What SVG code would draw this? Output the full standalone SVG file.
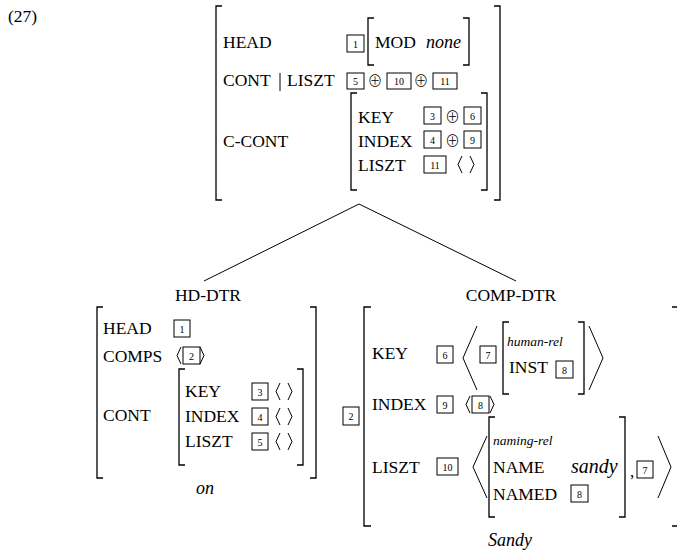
<svg xmlns="http://www.w3.org/2000/svg" width="677" height="551" viewBox="0 0 677 551">
<style>
text{font-family:"Liberation Serif","Times New Roman",serif;fill:#000}
.t{font-size:17.5px}
.i{font-size:18px;font-style:italic}
.s{font-size:13.5px;font-style:italic}
.n{font-size:10px;text-anchor:middle}
.o{font-family:"Noto Sans CJK JP","DejaVu Sans",sans-serif;font-size:15px;font-weight:300;text-anchor:middle}
.br{fill:none;stroke:#000;stroke-width:1.3}
.bx{fill:none;stroke:#000;stroke-width:1}
.ln{fill:none;stroke:#000;stroke-width:1}
</style>
<text class="t" x="8" y="22">(27)</text>

<g id="mother">
<path class="br" d="M222,6 H216 V200 H222"/>
<path class="br" d="M494,6 H500 V200 H494"/>
<text class="t" x="223" y="48">HEAD</text>
<rect class="bx" x="347" y="35" width="17" height="17"/><text class="n" x="355.5" y="47.5">1</text>
<path class="br" d="M374,18 H368 V65 H374"/>
<path class="br" d="M463,18 H469 V65 H463"/>
<text class="t" x="375" y="48">MOD</text>
<text class="i" x="426" y="48">none</text>
<text class="t" x="223" y="86">CONT</text>
<line class="ln" x1="280" y1="73" x2="280" y2="91"/>
<text class="t" x="287" y="86">LISZT</text>
<rect class="bx" x="347" y="73" width="17" height="16"/><text class="n" x="355.5" y="85">5</text>
<text class="o" x="375" y="86">⊕</text>
<rect class="bx" x="387" y="73" width="24" height="16"/><text class="n" x="399" y="85">10</text>
<text class="o" x="421" y="86">⊕</text>
<rect class="bx" x="433" y="73" width="24" height="16"/><text class="n" x="445" y="85">11</text>
<text class="t" x="223" y="147">C-CONT</text>
<path class="br" d="M357,93 H351 V190 H357"/>
<path class="br" d="M481,93 H487 V190 H481"/>
<text class="t" x="358" y="123">KEY</text>
<rect class="bx" x="424" y="107" width="17" height="17"/><text class="n" x="432.5" y="119.5">3</text>
<text class="o" x="452.5" y="122">⊕</text>
<rect class="bx" x="464" y="107" width="17" height="17"/><text class="n" x="472.5" y="119.5">6</text>
<text class="t" x="358" y="147">INDEX</text>
<rect class="bx" x="424" y="131" width="17" height="17"/><text class="n" x="432.5" y="143.5">4</text>
<text class="o" x="452.5" y="146">⊕</text>
<rect class="bx" x="464" y="131" width="17" height="17"/><text class="n" x="472.5" y="143.5">9</text>
<text class="t" x="358" y="171">LISZT</text>
<rect class="bx" x="424" y="156" width="22" height="17"/><text class="n" x="435" y="168.5">11</text>
<path class="ln" d="M462,156 L458,164.5 L462,173 M470,156 L474,164.5 L470,173"/>
</g>

<g id="connectors">
<line class="ln" x1="359" y1="204" x2="204" y2="281"/>
<line class="ln" x1="359" y1="204" x2="516" y2="281"/>
</g>

<g id="hd-dtr">
<text class="t" x="208" y="301" text-anchor="middle">HD-DTR</text>
<path class="br" d="M103,307 H97 V478 H103"/>
<path class="br" d="M310,307 H316 V478 H310"/>
<text class="t" x="103" y="334">HEAD</text>
<rect class="bx" x="174" y="320" width="16" height="17"/><text class="n" x="182" y="332.5">1</text>
<text class="t" x="103" y="362">COMPS</text>
<path class="ln" d="M181,347 L177,355.5 L181,364 M200,347 L204,355.5 L200,364"/>
<rect class="bx" x="183" y="347" width="17" height="17"/><text class="n" x="191.5" y="359.5">2</text>
<path class="br" d="M185,369 H179 V465 H185"/>
<path class="br" d="M297,369 H303 V465 H297"/>
<text class="t" x="185" y="397">KEY</text>
<rect class="bx" x="252" y="383" width="16" height="17"/><text class="n" x="260" y="395.5">3</text>
<path class="ln" d="M280,383 L276,391.5 L280,400 M288,383 L292,391.5 L288,400"/>
<text class="t" x="103" y="421">CONT</text>
<text class="t" x="185" y="422">INDEX</text>
<rect class="bx" x="252" y="408" width="16" height="17"/><text class="n" x="260" y="420.5">4</text>
<path class="ln" d="M280,408 L276,416.5 L280,425 M288,408 L292,416.5 L288,425"/>
<text class="t" x="185" y="447">LISZT</text>
<rect class="bx" x="252" y="433" width="16" height="17"/><text class="n" x="260" y="445.5">5</text>
<path class="ln" d="M280,433 L276,441.5 L280,450 M288,433 L292,441.5 L288,450"/>
<text class="i" x="205" y="494" text-anchor="middle">on</text>
</g>

<g id="comp-dtr">
<text class="t" x="511" y="301" text-anchor="middle">COMP-DTR</text>
<rect class="bx" x="343" y="407" width="16" height="18"/><text class="n" x="351" y="420">2</text>
<path class="br" d="M371,307 H364 V526 H371"/>
<path class="br" d="M672,307 H677 M672,526 H677"/>
<text class="t" x="372" y="359">KEY</text>
<rect class="bx" x="437" y="346" width="16" height="17"/><text class="n" x="445" y="358.5">6</text>
<path class="ln" d="M477,326 L463,358 L477,390"/>
<rect class="bx" x="480" y="346" width="16" height="17"/><text class="n" x="488" y="358.5">7</text>
<path class="br" d="M509,322 H503 V394 H509"/>
<path class="br" d="M578,322 H584 V394 H578"/>
<text class="s" x="507" y="346">human-rel</text>
<text class="t" x="509" y="373">INST</text>
<rect class="bx" x="556" y="361" width="17" height="17"/><text class="n" x="564.5" y="373.5">8</text>
<path class="ln" d="M589,326 L603,358 L589,390"/>
<text class="t" x="372" y="410">INDEX</text>
<rect class="bx" x="437" y="396" width="16" height="17"/><text class="n" x="445" y="408.5">9</text>
<path class="ln" d="M470,396 L466,404.5 L470,413 M490,396 L494,404.5 L490,413"/>
<rect class="bx" x="472" y="396" width="17" height="17"/><text class="n" x="480.5" y="408.5">8</text>
<text class="t" x="372" y="473">LISZT</text>
<rect class="bx" x="437" y="458" width="21" height="17"/><text class="n" x="447.5" y="470.5">10</text>
<path class="ln" d="M487,436 L473,467 L487,498"/>
<path class="br" d="M495,417 H489 V517 H495"/>
<path class="br" d="M619,417 H625 V517 H619"/>
<text class="s" x="493" y="445">naming-rel</text>
<text class="t" x="493" y="473">NAME</text>
<text class="i" x="571" y="473" style="font-size:20px">sandy</text>
<text class="t" x="493" y="500">NAMED</text>
<rect class="bx" x="571" y="485" width="17" height="17"/><text class="n" x="579.5" y="497.5">8</text>
<text class="t" x="630" y="477">,</text>
<rect class="bx" x="637" y="461" width="16" height="17"/><text class="n" x="645" y="473.5">7</text>
<path class="ln" d="M658,436 L671,467 L658,498"/>
<text class="i" x="510" y="546" text-anchor="middle">Sandy</text>
</g>
</svg>
